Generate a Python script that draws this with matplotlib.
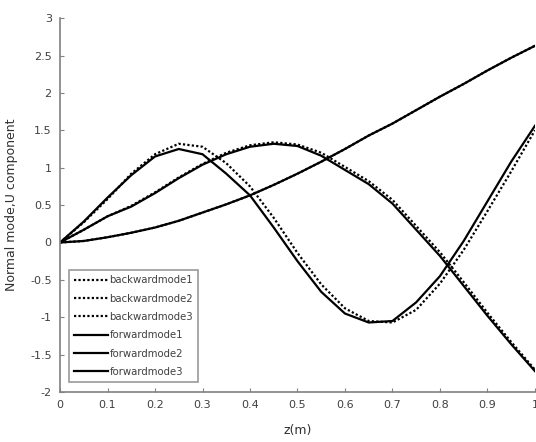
import numpy as np
import matplotlib
matplotlib.use("Agg")
import matplotlib.pyplot as plt

z = [0.0, 0.05, 0.1, 0.15, 0.2, 0.25, 0.3, 0.35, 0.4, 0.45, 0.5,
     0.55, 0.6, 0.65, 0.7, 0.75, 0.8, 0.85, 0.9, 0.95, 1.0]

backward1 = [0, 0.27, 0.58, 0.92, 1.18, 1.32, 1.28, 1.06, 0.75, 0.33, -0.14,
             -0.56, -0.88, -1.05, -1.07, -0.90, -0.55, -0.10, 0.42, 0.95, 1.50]
backward2 = [0, 0.17, 0.35, 0.49, 0.67, 0.87, 1.05, 1.20, 1.30, 1.34, 1.31,
             1.20, 1.01, 0.82, 0.57, 0.22, -0.13, -0.53, -0.94, -1.33, -1.70]
backward3 = [0, 0.02, 0.07, 0.13, 0.20, 0.29, 0.40, 0.51, 0.63, 0.77, 0.92,
             1.08, 1.25, 1.43, 1.59, 1.77, 1.95, 2.12, 2.30, 2.47, 2.63]
forward1 = [0, 0.28, 0.60, 0.90, 1.15, 1.25, 1.18, 0.92, 0.63, 0.20, -0.25,
            -0.66, -0.95, -1.07, -1.05, -0.80, -0.45, 0.02, 0.55, 1.08, 1.56]
forward2 = [0, 0.17, 0.35, 0.48, 0.66, 0.86, 1.04, 1.18, 1.28, 1.32, 1.29,
            1.16, 0.97, 0.78, 0.52, 0.17, -0.18, -0.58, -0.98, -1.36, -1.72]
forward3 = [0, 0.02, 0.07, 0.13, 0.20, 0.29, 0.40, 0.51, 0.63, 0.77, 0.92,
            1.08, 1.25, 1.43, 1.59, 1.77, 1.95, 2.12, 2.30, 2.47, 2.63]

labels = ["backwardmode1", "backwardmode2", "backwardmode3",
          "forwardmode1", "forwardmode2", "forwardmode3"]

fig = plt.figure(figsize=(5.36, 4.42), dpi=100)
ax = fig.add_axes([0.112, 0.113, 0.886, 0.846])

gray = "#808080"
for y, lab in zip([backward1, backward2, backward3], labels[:3]):
    ax.plot(z, y, color="black", linestyle=(0, (1, 1)), linewidth=1.6, label=lab)
for y, lab in zip([forward1, forward2, forward3], labels[3:]):
    ax.plot(z, y, color="black", linestyle="-", linewidth=1.6, label=lab)

ax.set_xlim(0, 1)
ax.set_ylim(-2, 3)
ax.set_xticks(np.arange(0, 1.01, 0.1))
ax.set_xticklabels(["0", "0.1", "0.2", "0.3", "0.4", "0.5", "0.6", "0.7", "0.8", "0.9", "1"])
ax.set_yticks(np.arange(-2, 3.01, 0.5))
ax.set_yticklabels(["-2", "-1.5", "-1", "-0.5", "0", "0.5", "1", "1.5", "2", "2.5", "3"])
for s in ["top", "right"]:
    ax.spines[s].set_visible(False)
for s in ["left", "bottom"]:
    ax.spines[s].set_color(gray)
    ax.spines[s].set_linewidth(1.2)
ax.tick_params(direction="in", length=3, color=gray, labelsize=8, labelcolor="#404040")
ax.tick_params(axis="x", pad=6)
ax.tick_params(axis="y", pad=6)
ax.set_xlabel("z(m)", fontsize=9, color="#303030", labelpad=10)
ax.set_ylabel("Normal mode,U component", fontsize=9, color="#303030", labelpad=9)

leg = ax.legend(loc="lower left", fontsize=7.3, frameon=True, fancybox=False,
                handlelength=3.3, handletextpad=0.2, borderpad=0.5,
                labelspacing=0.82, borderaxespad=0, bbox_to_anchor=(0.019, 0.027))
leg.get_frame().set_edgecolor(gray)
leg.get_frame().set_linewidth(1.2)
for t in leg.get_texts():
    t.set_color("#404040")

fig.savefig("out.png", dpi=100)
